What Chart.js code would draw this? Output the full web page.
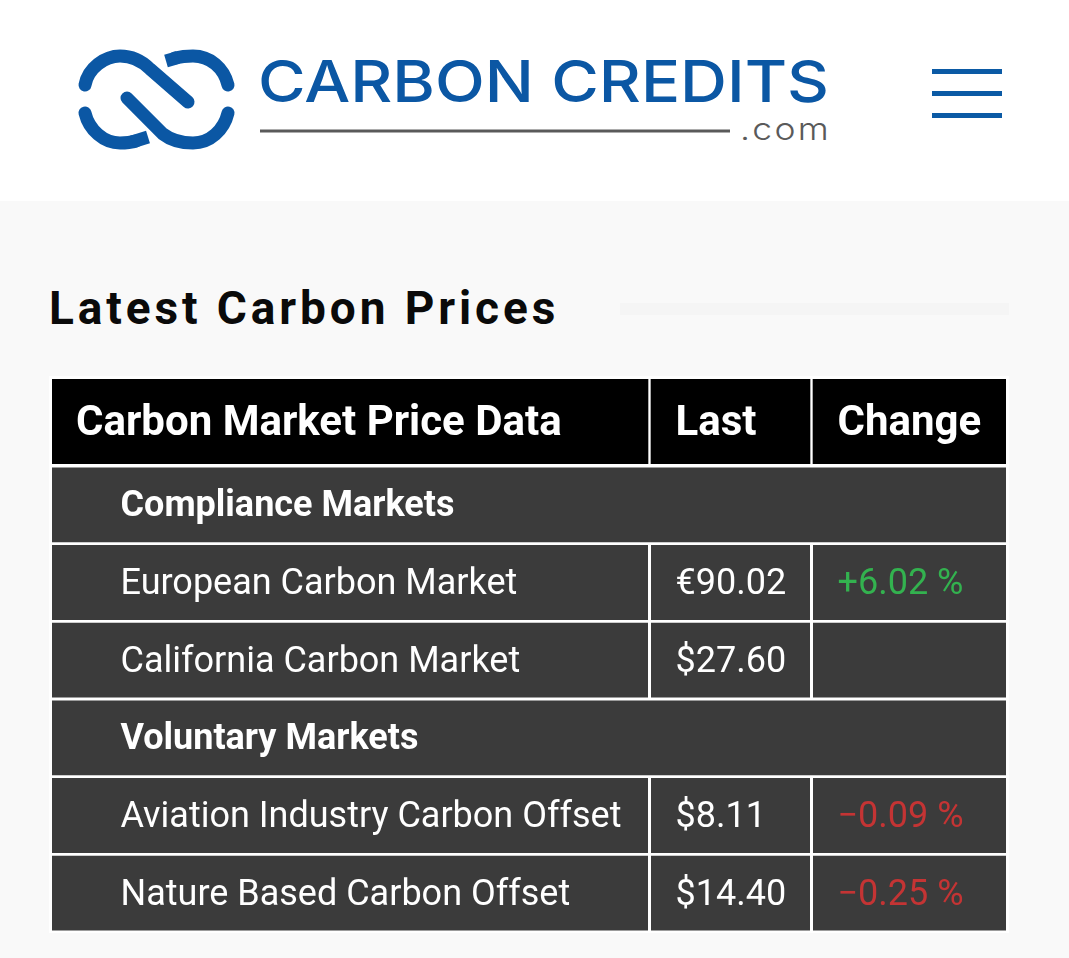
<!DOCTYPE html>
<html>
<head>
<meta charset="utf-8">
<title>Latest Carbon Prices</title>
<script src="https://cdn.jsdelivr.net/npm/chart.js@4"></script>
<style>
  html, body { margin: 0; padding: 0; background: #f9f9f9; }
  body { position: relative; width: 1069px; height: 958px; overflow: hidden; font-family: Roboto, sans-serif; }
  .top { position: absolute; left: 0; top: 0; width: 1069px; height: 201px; background: #fff; }
  .logo { position: absolute; left: 0; top: 0; }
  .burger { position: absolute; left: 932px; width: 70px; height: 5px; background: #0b5aa5; }
  h2 { position: absolute; left: 49px; top: 283px; margin: 0; font-size: 46px; line-height: 50px; font-weight: 700; letter-spacing: 3.9px; color: #0a0a0a; white-space: nowrap; }
  .rule { position: absolute; left: 620px; top: 303px; width: 389px; height: 12px; background: #f5f5f5; }
  .frame { position: absolute; left: 49px; top: 376px; width: 960px; height: 557px; background: #fff; }
  canvas { position: absolute; left: 52px; }
</style>
</head>
<body>
<div class="top"></div>
<svg class="logo" width="860" height="201" xmlns="http://www.w3.org/2000/svg">
  <g fill="none" stroke="#0b57a4" stroke-width="13" stroke-linecap="round">
    <path d="M85 85 C88 68 105 56 120 56 C134 56 143 62 150 69 L188 102"/>
    <path d="M175 58 C181 56.5 187 56 193 56 C210 56 224 68 228 85"/>
    <path d="M166 61 L178 57.5" stroke-linecap="butt"/>
    <path d="M85 113 C89 130 104 143 120 143 C126 143 131 142.5 136 141"/>
    <path d="M132 142 L148 137" stroke-linecap="butt"/>
    <path d="M127 98 L163 134 C172 141 182 143 193 143 C210 143 224 130 228 113"/>
  </g>
  <text x="258" y="102" font-family="Inter" font-weight="500" font-size="58" fill="#0b57a4" textLength="571" lengthAdjust="spacingAndGlyphs">CARBON CREDITS</text>
  <rect x="260" y="129.5" width="470" height="3" fill="#5a5a5a"/>
  <text x="740" y="140" font-family="Inter" font-weight="300" font-size="31" letter-spacing="2" fill="#5a5a5a" textLength="91" lengthAdjust="spacingAndGlyphs">.com</text>
</svg>
<div class="burger" style="top:69px"></div>
<div class="burger" style="top:91px"></div>
<div class="burger" style="top:112.5px"></div>
<h2>Latest Carbon Prices</h2>
<div class="rule"></div>
<div class="frame"></div>
<canvas id="headChart" width="954" height="85" style="top:379px"></canvas>
<canvas id="bodyChart" width="954" height="466" style="top:465.5px"></canvas>
<script>
const headers = ['Carbon Market Price Data', 'Last', 'Change'];
const rowLabels = ['Compliance Markets', 'European Carbon Market', 'California Carbon Market', 'Voluntary Markets', 'Aviation Industry Carbon Offset', 'Nature Based Carbon Offset'];
const currencies = [null, '€', '$', null, '$', '$'];
const lastPrices = [null, 90.02, 27.60, null, 8.11, 14.40];
const changes = [null, 6.02, null, null, -0.09, -0.25];

// column edges in table pixels, x scale runs 0..954
const col1 = [0, 596];
const col2 = [599, 758];
const col3 = [761, 954];
const textX = [24, 623.5, 785.5];
const bodyInset = 68.5;

const isSection = i => lastPrices[i] === null;
const fmtPrice = i => lastPrices[i] === null ? '' : currencies[i] + lastPrices[i].toFixed(2);
const fmtChange = i => {
  if (changes[i] === null) return '';
  return (changes[i] >= 0 ? '+' : '\u2212') + Math.abs(changes[i]).toFixed(2) + ' %';
};
const changeColor = v => v >= 0 ? '#33b24f' : '#c43434';

const cellText = {
  id: 'cellText',
  afterDatasetsDraw(chart, args, opts) {
    const { ctx, scales } = chart;
    ctx.save();
    ctx.textBaseline = 'alphabetic';
    opts.cells.forEach(c => {
      ctx.font = c.font;
      ctx.fillStyle = c.color;
      ctx.fillText(c.text, scales.x.getPixelForValue(c.x), scales.y.getPixelForValue(c.row) + opts.baseline);
    });
    ctx.restore();
  }
};

function tableChart(id, labels, datasets, cells, barPct, baseline) {
  return new Chart(document.getElementById(id), {
    type: 'bar',
    plugins: [cellText],
    data: { labels, datasets },
    options: {
      indexAxis: 'y',
      responsive: false,
      animation: false,
      devicePixelRatio: 1,
      datasets: { bar: { grouped: false, categoryPercentage: 1, barPercentage: barPct, borderWidth: 0, borderSkipped: false } },
      layout: { padding: 0 },
      scales: {
        x: { type: 'linear', min: 0, max: 954, display: false },
        y: { type: 'category', display: false }
      },
      plugins: {
        legend: { display: false },
        title: { display: false },
        tooltip: { enabled: false },
        cellText: { cells, baseline }
      }
    }
  });
}

// header row
const headCells = headers.map((text, i) => ({ text, row: 0, x: textX[i], font: '700 42px Roboto', color: '#fff' }));
tableChart('headChart', ['header'], [
  { data: [col1], backgroundColor: '#000' },
  { data: [col2], backgroundColor: '#000' },
  { data: [col3], backgroundColor: '#000' }
], headCells, 1, 13);

// body rows, section rows span the whole table
const bodyCells = [];
rowLabels.forEach((label, i) => {
  bodyCells.push({ text: label, row: i, x: bodyInset, font: (isSection(i) ? '700 ' : '400 ') + '36px Roboto', color: '#fff' });
  if (isSection(i)) return;
  bodyCells.push({ text: fmtPrice(i), row: i, x: textX[1], font: '400 36px Roboto', color: '#fff' });
  if (changes[i] !== null) bodyCells.push({ text: fmtChange(i), row: i, x: textX[2], font: '400 36px Roboto', color: changeColor(changes[i]) });
});
tableChart('bodyChart', rowLabels, [
  { data: rowLabels.map((_, i) => isSection(i) ? [0, 954] : col1), backgroundColor: '#3b3b3b' },
  { data: rowLabels.map((_, i) => isSection(i) ? null : col2), backgroundColor: '#3b3b3b' },
  { data: rowLabels.map((_, i) => isSection(i) ? null : col3), backgroundColor: '#3b3b3b' }
], bodyCells, 0.964, 11.5);
</script>
</body>
</html>
